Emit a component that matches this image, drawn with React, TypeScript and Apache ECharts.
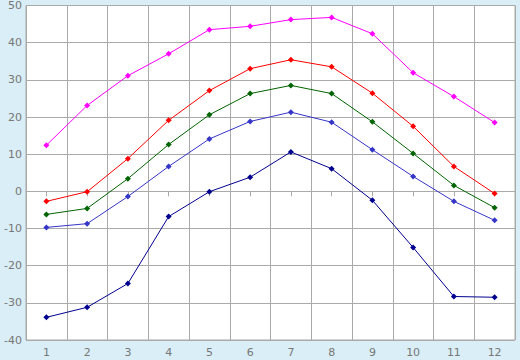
import React, { useEffect, useRef } from "react";
import * as echarts from "echarts";

const categories = ["1", "2", "3", "4", "5", "6", "7", "8", "9", "10", "11", "12"];
const magentaSeries = [12.4, 23.1, 31.1, 37.0, 43.5, 44.4, 46.2, 46.8, 42.4, 31.9, 25.5, 18.5];
const redSeries = [-2.7, -0.1, 8.8, 19.1, 27.1, 33.0, 35.4, 33.5, 26.4, 17.5, 6.7, -0.6];
const greenSeries = [-6.2, -4.6, 3.4, 12.6, 20.6, 26.3, 28.5, 26.3, 18.7, 10.2, 1.6, -4.4];
const blueSeries = [-9.7, -8.7, -1.4, 6.7, 14.1, 18.8, 21.3, 18.6, 11.2, 4.0, -2.7, -7.8];
const navySeries = [-33.9, -31.2, -24.8, -6.8, -0.1, 3.8, 10.6, 6.1, -2.4, -15.1, -28.3, -28.5];

const seriesList = [
  { name: "magenta", data: magentaSeries, color: "#ff00ff" },
  { name: "red", data: redSeries, color: "#ff0000" },
  { name: "green", data: greenSeries, color: "#006400" },
  { name: "blue", data: blueSeries, color: "#3535c8" },
  { name: "navy", data: navySeries, color: "#00008f" },
];

export default function App() {
  const ref = useRef<HTMLDivElement>(null);
  useEffect(() => {
    if (!ref.current) return;
    const chart = echarts.init(ref.current, null, { renderer: "svg" });
    chart.setOption({
      animation: false,
      backgroundColor: "#d9eef6",
      grid: {
        left: 26,
        right: 5,
        top: 5,
        bottom: 20,
        show: true,
        backgroundColor: "#ffffff",
        borderColor: "#aaaaaa",
        borderWidth: 1,
      },
      xAxis: {
        type: "category",
        data: categories,
        boundaryGap: true,
        axisLine: { lineStyle: { color: "#aaaaaa", width: 1 } },
        axisTick: { show: true, alignWithLabel: true, length: 5, lineStyle: { color: "#aaaaaa" } },
        axisLabel: { color: "#777777", fontSize: 11, fontFamily: "DejaVu Sans", margin: 7 },
        splitLine: { show: true, lineStyle: { color: "#aaaaaa", width: 1 } },
      },
      yAxis: {
        type: "value",
        min: -40,
        max: 50,
        interval: 10,
        axisLine: { show: false },
        axisTick: { show: false },
        axisLabel: { color: "#777777", fontSize: 11, fontFamily: "DejaVu Sans", margin: 4 },
        splitLine: { show: true, lineStyle: { color: "#aaaaaa", width: 1 } },
      },
      series: seriesList.map((s) => ({
        name: s.name,
        type: "line",
        data: s.data,
        symbol: "diamond",
        symbolSize: 6,
        showSymbol: true,
        lineStyle: { color: s.color, width: 1 },
        itemStyle: { color: s.color },
      })),
    });
    return () => chart.dispose();
  }, []);
  return (
    <div style={{ position: "fixed", left: 0, top: 0, width: 520, height: 360 }}>
      <div ref={ref} style={{ width: 520, height: 360 }} />
    </div>
  );
}
